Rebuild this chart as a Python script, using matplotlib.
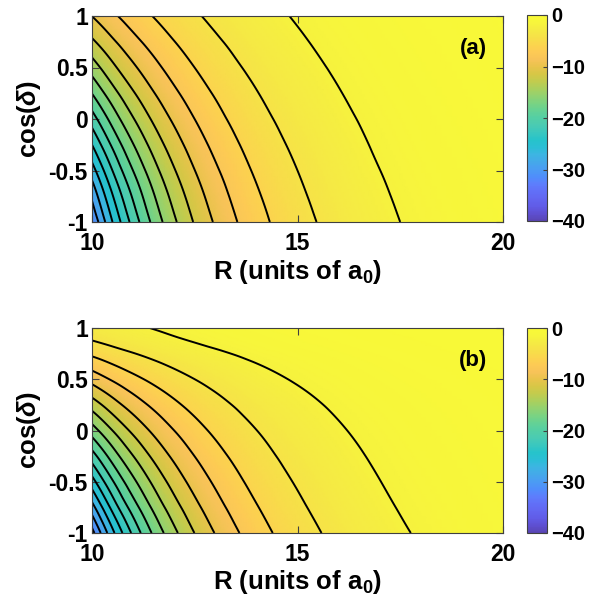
import numpy as np
import matplotlib
matplotlib.use("Agg")
import matplotlib.pyplot as plt
from matplotlib.colors import LinearSegmentedColormap
from matplotlib.tri import Triangulation, UniformTriRefiner, CubicTriInterpolator

# ---------------- data ----------------
R_values = [10, 10.5, 11, 11.5, 12, 12.5, 13, 14, 15, 16, 17, 18, 20]       # R (a0)
cos_a = [-1, -0.75, -0.5, -0.25, 0, 0.25, 0.5, 0.75, 1]                   # cos(delta), panel (a)
cos_b = [-1, -0.75, -0.5, -0.25, 0, 0.25, 0.5, 0.75, 0.875, 1]            # cos(delta), panel (b)

# field values x(-100); one row per cos(delta), one column per R
field_a = [[3188, 2599, 2126, 1743, 1434, 1182, 978, 675, 471, 332, 236, 170, 90],
           [2960, 2413, 1973, 1618, 1330, 1097, 907, 626, 436, 307, 219, 157, 83],
           [2692, 2197, 1798, 1476, 1214, 1002, 830, 573, 400, 282, 201, 145, 77],
           [2400, 1963, 1609, 1323, 1091, 902, 748, 518, 363, 257, 183, 132, 70],
           [2097, 1720, 1414, 1166, 964, 799, 664, 462, 325, 231, 166, 120, 64],
           [1795, 1479, 1221, 1010, 838, 697, 582, 408, 288, 206, 148, 108, 58],
           [1506, 1247, 1035, 861, 717, 599, 502, 355, 253, 182, 132, 96, 53],
           [1238, 1032, 861, 721, 604, 507, 427, 305, 219, 159, 116, 86, 48],
           [997, 837, 704, 593, 500, 423, 358, 258, 188, 138, 102, 75, 43]]

field_b = [[3278, 2652, 2157, 1764, 1449, 1196, 992, 690, 487, 349, 253, 186, 103],
           [2883, 2335, 1902, 1557, 1280, 1058, 878, 612, 433, 311, 226, 166, 92],
           [2487, 2021, 1651, 1356, 1118, 926, 771, 540, 384, 277, 202, 149, 84],
           [2093, 1710, 1404, 1158, 959, 798, 667, 471, 337, 245, 180, 133, 76],
           [1700, 1399, 1156, 960, 800, 670, 563, 402, 291, 213, 158, 118, 68],
           [1310, 1088, 907, 759, 638, 538, 456, 330, 242, 179, 134, 102, 60],
           [926, 778, 655, 554, 470, 400, 342, 252, 187, 141, 107, 82, 49],
           [562, 478, 408, 349, 300, 258, 223, 167, 127, 97, 75, 58, 36],
           [404, 347, 298, 257, 222, 192, 167, 126, 97, 75, 58, 46, 29],
           [300, 259, 224, 195, 169, 147, 129, 99, 77, 60, 47, 37, 24]]

contour_levels = list(range(-40, 0, 2))
cbar_ticks = [0, -10, -20, -30, -40]
x_ticks = [10, 15, 20]
y_ticks = [-1, -0.5, 0, 0.5, 1]
y_ticklabels = ['-1', '-0.5', '0', '0.5', '1']
panel_labels = ['(a)', '(b)']

# ---------------- colormap (parula-like, softened) ----------------
par = [(0.2422,0.1504,0.6603),(0.2647,0.1978,0.7952),(0.2783,0.2559,0.8991),(0.2813,0.3006,0.9414),
       (0.2795,0.3447,0.9717),(0.2602,0.4123,0.9952),(0.1963,0.4847,0.9892),(0.1764,0.5499,0.9520),
       (0.1460,0.6091,0.9079),(0.1113,0.6635,0.8763),(0.0297,0.7082,0.8163),(0.0067,0.7312,0.7660),
       (0.0964,0.7500,0.7120),(0.1717,0.7670,0.6554),(0.2161,0.7843,0.5923),(0.2906,0.7973,0.5188),
       (0.3909,0.8029,0.4354),(0.5044,0.7993,0.3480),(0.6174,0.7876,0.2612),(0.7242,0.7698,0.1910),
       (0.8203,0.7498,0.1535),(0.9035,0.7330,0.1774),(0.9728,0.7298,0.2394),(0.9970,0.7659,0.2199),
       (0.9892,0.8136,0.1885),(0.9676,0.8639,0.1643),(0.9597,0.9135,0.1423),(0.9691,0.9606,0.1064),
       (0.9769,0.9839,0.0805)]
alpha = 0.85
par = [tuple(alpha*v + (1-alpha)*0.96 for v in col) for col in par]
cmap = LinearSegmentedColormap.from_list("parula_soft", par, N=256)

plt.rcParams['font.family'] = ['Liberation Sans', 'DejaVu Sans']
plt.rcParams['font.weight'] = 'bold'
plt.rcParams['axes.labelweight'] = 'bold'
plt.rcParams['mathtext.fontset'] = 'custom'
plt.rcParams['mathtext.rm'] = 'Liberation Sans:bold'
plt.rcParams['mathtext.bf'] = 'Liberation Sans:bold'
plt.rcParams['mathtext.it'] = 'Liberation Sans:italic:bold'

fig = plt.figure(figsize=(5.9, 6.06), dpi=100)
W, H = 590, 606


def draw(axbox, cbox, cvals, field, lab):
    ax = fig.add_axes([axbox[0]/W, 1-axbox[3]/H, (axbox[1]-axbox[0])/W, (axbox[3]-axbox[2])/H])
    RR, CC = np.meshgrid(np.array(R_values, float), np.array(cvals, float))
    Z = -np.array(field, float) / 100.0
    tri = Triangulation(RR.ravel(), CC.ravel())
    interp = CubicTriInterpolator(tri, Z.ravel(), kind='min_E')
    tri_f, z_f = UniformTriRefiner(tri).refine_field(Z.ravel(), triinterpolator=interp, subdiv=4)
    m = ax.tripcolor(tri_f, z_f, cmap=cmap, vmin=-40, vmax=0, shading='gouraud')
    ax.tricontour(tri_f, z_f, levels=contour_levels, colors='k', linewidths=1.4, linestyles='solid')
    ax.set_xlim(10, 20); ax.set_ylim(-1, 1)
    ax.set_xticks(x_ticks); ax.set_yticks(y_ticks)
    ax.set_yticklabels(y_ticklabels)
    ax.tick_params(direction='in', top=True, right=True, length=5, labelsize=16.5, color='0.25')
    ax.tick_params(axis='x', pad=7)
    ax.tick_params(axis='y', pad=3)
    for t in ax.get_yticklabels():
        t.set_va('center_baseline')
    for s in ax.spines.values():
        s.set_color('0.25')
    ax.set_xlabel(r'R (units of a$_{0}$)', fontsize=18.5, fontweight='bold', labelpad=2)
    ax.set_ylabel(r'cos($\delta$)', fontsize=18.5, fontweight='bold', labelpad=4)
    ax.text(0.961, 0.84, lab, transform=ax.transAxes, ha='right', va='center',
            fontsize=16, fontweight='bold')
    cax = fig.add_axes([cbox[0]/W, 1-cbox[3]/H, (cbox[1]-cbox[0])/W, (cbox[3]-cbox[2])/H])
    cb = fig.colorbar(m, cax=cax, ticks=cbar_ticks)
    cb.outline.set_edgecolor('0.25')
    cax.tick_params(direction='in', length=3, labelsize=14.5, pad=3, color='0.25')
    return ax


draw((92, 503, 16, 222), (527, 547, 15, 221), cos_a, field_a, panel_labels[0])
draw((92, 503, 328, 533), (527, 547, 328, 533), cos_b, field_b, panel_labels[1])
fig.savefig('out.png', dpi=100)
